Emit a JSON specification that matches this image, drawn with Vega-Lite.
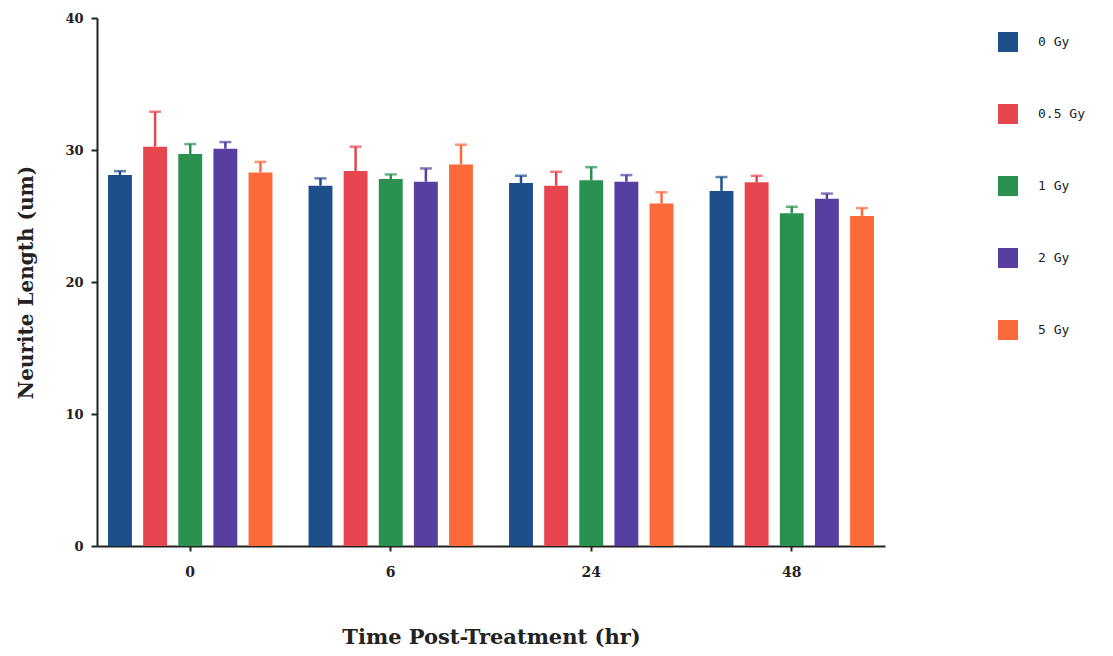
{
  "$schema": "https://vega.github.io/schema/vega-lite/v6.json",
  "autosize": {"type": "none"},
  "padding": {"left": 97, "top": 18, "right": 228, "bottom": 110},
  "width": 788,
  "height": 528,
  "background": "white",
  "data": {
    "values": [
      {"time": "0", "dose": "0 Gy", "mean": 28.1, "upper": 28.4},
      {"time": "0", "dose": "0.5 Gy", "mean": 30.25, "upper": 32.9},
      {"time": "0", "dose": "1 Gy", "mean": 29.7, "upper": 30.45},
      {"time": "0", "dose": "2 Gy", "mean": 30.1, "upper": 30.6},
      {"time": "0", "dose": "5 Gy", "mean": 28.3, "upper": 29.1},
      {"time": "6", "dose": "0 Gy", "mean": 27.3, "upper": 27.85},
      {"time": "6", "dose": "0.5 Gy", "mean": 28.4, "upper": 30.25},
      {"time": "6", "dose": "1 Gy", "mean": 27.8, "upper": 28.15},
      {"time": "6", "dose": "2 Gy", "mean": 27.6, "upper": 28.6},
      {"time": "6", "dose": "5 Gy", "mean": 28.9, "upper": 30.4},
      {"time": "24", "dose": "0 Gy", "mean": 27.5, "upper": 28.05},
      {"time": "24", "dose": "0.5 Gy", "mean": 27.3, "upper": 28.35},
      {"time": "24", "dose": "1 Gy", "mean": 27.7, "upper": 28.7},
      {"time": "24", "dose": "2 Gy", "mean": 27.6, "upper": 28.1},
      {"time": "24", "dose": "5 Gy", "mean": 25.95, "upper": 26.8},
      {"time": "48", "dose": "0 Gy", "mean": 26.9, "upper": 27.95},
      {"time": "48", "dose": "0.5 Gy", "mean": 27.55, "upper": 28.05},
      {"time": "48", "dose": "1 Gy", "mean": 25.2, "upper": 25.7},
      {"time": "48", "dose": "2 Gy", "mean": 26.3, "upper": 26.7},
      {"time": "48", "dose": "5 Gy", "mean": 25.0, "upper": 25.6}
    ]
  },
  "encoding": {
    "x": {
      "field": "time",
      "type": "nominal",
      "sort": ["0", "6", "24", "48"],
      "scale": {"paddingInner": 0.18, "paddingOuter": 0.055},
      "axis": {
        "title": "Time Post-Treatment (hr)",
        "titleFont": "DejaVu Serif",
        "titleFontSize": 21,
        "titleFontWeight": "bold",
        "titleColor": "#222",
        "titlePadding": 47,
        "labelAngle": 0,
        "labelFont": "DejaVu Serif",
        "labelFontWeight": "bold",
        "labelFontSize": 14,
        "labelColor": "#222",
        "labelPadding": 14,
        "domainColor": "#222",
        "domainWidth": 2,
        "tickColor": "#222",
        "tickSize": 5,
        "tickWidth": 2
      }
    },
    "xOffset": {
      "field": "dose",
      "type": "nominal",
      "sort": ["0 Gy", "0.5 Gy", "1 Gy", "2 Gy", "5 Gy"],
      "scale": {"paddingInner": 0.32, "paddingOuter": 0}
    },
    "color": {
      "field": "dose",
      "type": "nominal",
      "sort": ["0 Gy", "0.5 Gy", "1 Gy", "2 Gy", "5 Gy"],
      "scale": {
        "domain": ["0 Gy", "0.5 Gy", "1 Gy", "2 Gy", "5 Gy"],
        "range": ["#1d4f8a", "#e8464e", "#2a9150", "#563fa0", "#fd6a3a"]
      },
      "legend": {
        "title": null,
        "orient": "none",
        "legendX": 901,
        "legendY": 14,
        "symbolType": "square",
        "symbolSize": 400,
        "symbolStrokeWidth": 0,
        "symbolOpacity": 1,
        "labelFont": "DejaVu Sans Mono",
        "labelFontSize": 13,
        "labelColor": "#222",
        "labelOffset": 20,
        "rowPadding": 52
      }
    }
  },
  "layer": [
    {
      "mark": {"type": "bar"},
      "encoding": {
        "y": {
          "field": "mean",
          "type": "quantitative",
          "scale": {"domain": [0, 40]},
          "axis": {
            "title": "Neurite Length (um)",
            "titleFont": "DejaVu Serif",
            "titleFontSize": 20,
            "titleFontWeight": "bold",
            "titleColor": "#222",
            "titlePadding": 28,
            "values": [0, 10, 20, 30, 40],
            "grid": false,
            "labelFont": "DejaVu Serif",
            "labelFontWeight": "bold",
            "labelFontSize": 13,
            "labelColor": "#222",
            "labelPadding": 8,
            "domainColor": "#222",
            "domainWidth": 2,
            "tickColor": "#222",
            "tickSize": 6,
            "tickWidth": 2
          }
        }
      }
    },
    {
      "mark": {"type": "rule", "strokeWidth": 2.5},
      "encoding": {
        "y": {"field": "mean", "type": "quantitative"},
        "y2": {"field": "upper"}
      }
    },
    {
      "mark": {"type": "tick", "size": 12, "thickness": 2.5, "orient": "horizontal"},
      "encoding": {
        "y": {"field": "upper", "type": "quantitative"}
      }
    }
  ],
  "config": {"view": {"stroke": null}}
}
